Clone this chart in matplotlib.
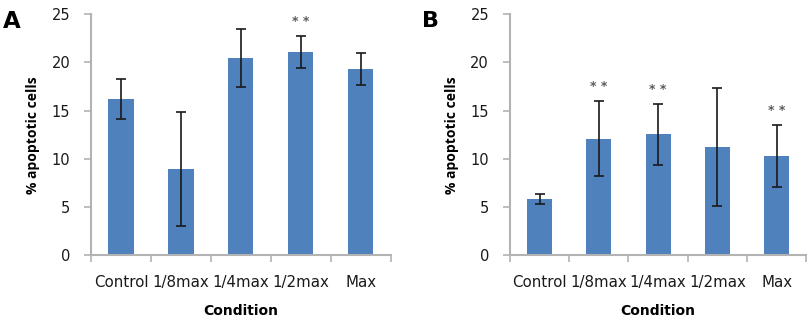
import matplotlib
matplotlib.use('Agg')
import matplotlib.pyplot as plt

plt.rcParams['font.family'] = ['DejaVu Sans']

CONDITIONS = ['Control', '1/8max', '1/4max', '1/2max', 'Max']

# panel A
MEANS_A = [16.2, 8.95, 20.45, 21.1, 19.3]
ERRORS_A = [2.05, 5.95, 3.0, 1.65, 1.65]
STARS_A = ['', '', '', '* *', '']

# panel B
MEANS_B = [5.83, 12.1, 12.54, 11.2, 10.27]
ERRORS_B = [0.55, 3.9, 3.13, 6.1, 3.2]
STARS_B = ['', '* *', '* *', '', '* *']

BAR_COLOR = '#4F81BD'
AXIS_COLOR = '#B3B3B3'
TEXT_COLOR = '#1a1a1a'


def _draw_panel(ax, means, errors, stars):
    x = list(range(len(CONDITIONS)))
    ax.bar(x, means, width=0.42, color=BAR_COLOR, zorder=2)
    ax.errorbar(
        x, means, yerr=errors, fmt='none', ecolor='#1a1a1a',
        elinewidth=1.2, capsize=3.5, capthick=1.2, zorder=3
    )
    for xi, m, e, s in zip(x, means, errors, stars):
        if s:
            ax.text(xi, m + e + 1.5, s, ha='center', va='center',
                    fontsize=9, color='#5a5a5a', fontweight='bold')

    ax.set_xlim(-0.5, len(CONDITIONS) - 0.5)
    ax.set_ylim(0, 25)
    ax.set_yticks([0, 5, 10, 15, 20, 25])
    ax.set_xticks(x)
    ax.set_xticklabels(CONDITIONS)
    ax.set_xticks([i - 0.5 for i in range(len(CONDITIONS) + 1)], minor=True)
    ax.tick_params(axis='x', which='major', length=0, pad=14,
                   labelsize=10.8, labelcolor=TEXT_COLOR)
    ax.tick_params(axis='x', which='minor', length=5, width=1.2,
                   color=AXIS_COLOR, direction='out')
    ax.tick_params(axis='y', length=5, width=1.2, color=AXIS_COLOR,
                   pad=10, labelsize=10.5, labelcolor=TEXT_COLOR)

    for side in ['top', 'right']:
        ax.spines[side].set_visible(False)
    for side in ['left', 'bottom']:
        ax.spines[side].set_color(AXIS_COLOR)
        ax.spines[side].set_linewidth(1.5)

    ax.set_xlabel('Condition', fontsize=10, fontweight='bold',
                  labelpad=10, color='black')
    ax.set_ylabel('% apoptotic cells', fontsize=10, fontweight='bold',
                  color='black', family='Open Sans')
    ax.yaxis.set_label_coords(-0.17, 0.5)
    return ax


fig = plt.figure(figsize=(8.08, 3.2), dpi=100)
ax_a = fig.add_axes([0.1126, 0.202, 0.371, 0.754])
ax_b = fig.add_axes([0.631, 0.202, 0.367, 0.754])

_draw_panel(ax_a, MEANS_A, ERRORS_A, STARS_A)
_draw_panel(ax_b, MEANS_B, ERRORS_B, STARS_B)

fig.text(0.004, 0.97, 'A', fontsize=16.5, fontweight='bold',
         ha='left', va='top')
fig.text(0.522, 0.965, 'B', fontsize=16, fontweight='bold',
         ha='left', va='top')

fig.savefig('out.png', dpi=100)
